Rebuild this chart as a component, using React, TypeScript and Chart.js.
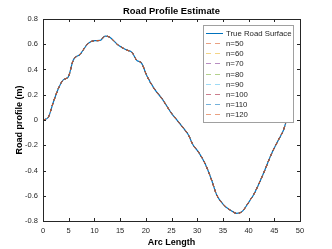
import React, { useEffect, useRef } from "react";
import { Chart, registerables } from "chart.js";

Chart.register(...registerables);

const arcLength = [0, 1.0, 2.0, 3.0, 4.0, 4.9, 5.9, 7.2, 8.8, 10.1, 11.1, 12.1, 13.0, 14.6, 16.3, 17.3, 18.2, 19.2, 20.2, 21.8, 23.1, 25.0, 26.3, 27.6, 28.3, 29.2, 30.2, 31.5, 32.8, 33.8, 35.1, 36.4, 37.7, 38.7, 40.3, 41.0, 42.9, 44.5, 45.8, 46.8, 47.4, 48.0];
const trueProfile = [0.0, 0.02, 0.14, 0.25, 0.32, 0.34, 0.475, 0.52, 0.607, 0.628, 0.63, 0.665, 0.655, 0.594, 0.554, 0.536, 0.475, 0.449, 0.35, 0.238, 0.172, 0.053, -0.013, -0.079, -0.119, -0.198, -0.251, -0.343, -0.475, -0.594, -0.67, -0.713, -0.739, -0.726, -0.634, -0.59, -0.422, -0.264, -0.158, -0.079, 0.0, 0.05];
// Estimates overlap the true surface at this resolution
const estimateProfile = [0.0, 0.02, 0.14, 0.25, 0.32, 0.34, 0.475, 0.52, 0.607, 0.628, 0.63, 0.665, 0.655, 0.594, 0.554, 0.536, 0.475, 0.449, 0.35, 0.238, 0.172, 0.053, -0.013, -0.079, -0.119, -0.198, -0.251, -0.343, -0.475, -0.594, -0.67, -0.713, -0.739, -0.726, -0.634, -0.59, -0.422, -0.264, -0.158, -0.079, 0.0, 0.05];
const estimateLabels = ["n=50", "n=60", "n=70", "n=80", "n=90", "n=100", "n=110", "n=120"];
const estimateColors = ["#D95319", "#EDB120", "#7E2F8E", "#77AC30", "#4DBEEE", "#A2142F", "#0072BD", "#D95319"];
const trueLabel = "True Road Surface";
const trueColor = "#0072BD";
const xTicks = [0, 5, 10, 15, 20, 25, 30, 35, 40, 45, 50];
const yTicks = [-0.8, -0.6, -0.4, -0.2, 0, 0.2, 0.4, 0.6, 0.8];
const titleText = "Road Profile Estimate";
const xLabel = "Arc Length";
const yLabel = "Road profile (m)";

const FONT = '"Liberation Sans", Arial, Helvetica, sans-serif';

function hexAlpha(hex: string, a: number) {
  const r = parseInt(hex.slice(1, 3), 16);
  const g = parseInt(hex.slice(3, 5), 16);
  const b = parseInt(hex.slice(5, 7), 16);
  return `rgba(${r},${g},${b},${a})`;
}

const decorPlugin = {
  id: "decor",
  afterDatasetsDraw(chart: any) {
    const ctx = chart.ctx as CanvasRenderingContext2D;
    const { left, right, top, bottom } = chart.chartArea;
    const xs = chart.scales.x;
    const ys = chart.scales.y;
    ctx.save();
    // box
    ctx.strokeStyle = "#262626";
    ctx.lineWidth = 1;
    ctx.strokeRect(Math.round(left) + 0.5, Math.round(top) + 0.5, Math.round(right - left), Math.round(bottom - top));
    // inward ticks
    const tl = 3;
    ctx.beginPath();
    xTicks.forEach((v) => {
      const px = Math.round(xs.getPixelForValue(v)) + 0.5;
      ctx.moveTo(px, bottom);
      ctx.lineTo(px, bottom - tl);
      ctx.moveTo(px, top);
      ctx.lineTo(px, top + tl);
    });
    yTicks.forEach((v) => {
      const py = Math.round(ys.getPixelForValue(v)) + 0.5;
      ctx.moveTo(left, py);
      ctx.lineTo(left + tl, py);
      ctx.moveTo(right, py);
      ctx.lineTo(right - tl, py);
    });
    ctx.stroke();

    // legend
    const lx = 203, ly = 25, lw = 90, lh = 97;
    ctx.fillStyle = "#ffffff";
    ctx.fillRect(lx, ly, lw, lh);
    ctx.strokeStyle = "#a0a0a0";
    ctx.strokeRect(lx + 0.5, ly + 0.5, lw, lh);
    const items = [{ label: trueLabel, color: trueColor, dash: false }].concat(
      estimateLabels.map((l, i) => ({ label: l, color: estimateColors[i], dash: true }))
    );
    ctx.font = `7.8px ${FONT}`;
    ctx.textBaseline = "middle";
    ctx.textAlign = "left";
    items.forEach((it, i) => {
      const cy = Math.round(32.7 + i * 10.2) + 0.5;
      ctx.beginPath();
      ctx.lineWidth = 1;
      if (it.dash) {
        ctx.setLineDash([5, 4]);
        ctx.strokeStyle = hexAlpha(it.color, 0.55);
      } else {
        ctx.setLineDash([]);
        ctx.strokeStyle = it.color;
      }
      ctx.moveTo(206, cy);
      ctx.lineTo(223, cy);
      ctx.stroke();
      ctx.setLineDash([]);
      ctx.fillStyle = "#262626";
      ctx.fillText(it.label, 226, cy);
    });

    // title and axis labels
    ctx.fillStyle = "#000000";
    ctx.textAlign = "center";
    ctx.textBaseline = "middle";
    ctx.font = `bold 9.4px ${FONT}`;
    ctx.fillText(titleText, (left + right) / 2, 11);
    ctx.font = `bold 9px ${FONT}`;
    ctx.fillText(xLabel, (left + right) / 2, 243);
    ctx.save();
    ctx.translate(19.5, (top + bottom) / 2);
    ctx.rotate(-Math.PI / 2);
    ctx.fillText(yLabel, 0, 0);
    ctx.restore();
    ctx.restore();
  },
};

export default function App() {
  const ref = useRef<HTMLCanvasElement | null>(null);
  useEffect(() => {
    if (!ref.current) return;
    const datasets: any[] = [
      {
        label: trueLabel,
        data: arcLength.map((x, i) => ({ x, y: trueProfile[i] })),
        borderColor: trueColor,
        borderWidth: 1.2,
        pointRadius: 0,
        cubicInterpolationMode: "monotone",
        order: 100,
      },
    ].concat(
      estimateLabels.map((l, k) => ({
        label: l,
        data: arcLength.map((x, i) => ({ x, y: estimateProfile[i] })),
        borderColor: estimateColors[k],
        borderWidth: 1,
        borderDash: [3, 3],
        pointRadius: 0,
        cubicInterpolationMode: "monotone",
        order: estimateLabels.length - k,
      })) as any
    );
    const chart = new Chart(ref.current, {
      type: "line",
      data: { datasets },
      options: {
        animation: false,
        responsive: false,
        devicePixelRatio: 1,
        layout: { padding: { top: 19, right: 32, left: 0, bottom: 0 } },
        plugins: { legend: { display: false }, title: { display: false }, tooltip: { enabled: false } },
        scales: {
          x: {
            type: "linear",
            min: 0,
            max: 50,
            afterFit: (s: any) => { s.height = 28; },
            afterBuildTicks: (s: any) => { s.ticks = xTicks.map((v) => ({ value: v })); },
            grid: { display: false, drawTicks: false },
            border: { display: false },
            ticks: { color: "#262626", font: { size: 7.5, family: FONT }, padding: 5, maxRotation: 0, autoSkip: false, callback: (v: any) => String(v) },
          },
          y: {
            type: "linear",
            min: -0.8,
            max: 0.8,
            afterFit: (s: any) => { s.width = 43; },
            afterBuildTicks: (s: any) => { s.ticks = yTicks.map((v) => ({ value: v })); },
            grid: { display: false, drawTicks: false },
            border: { display: false },
            ticks: { color: "#262626", font: { size: 7.5, family: FONT }, padding: 5, autoSkip: false, callback: (v: any) => String(Math.round(Number(v) * 10) / 10) },
          },
        },
      },
      plugins: [decorPlugin],
    } as any);
    return () => chart.destroy();
  }, []);
  return (
    <div style={{ position: "fixed", left: 0, top: 0, width: 332, height: 249, background: "#fff" }}>
      <canvas ref={ref} width={332} height={249} style={{ display: "block", width: 332, height: 249 }} />
    </div>
  );
}
